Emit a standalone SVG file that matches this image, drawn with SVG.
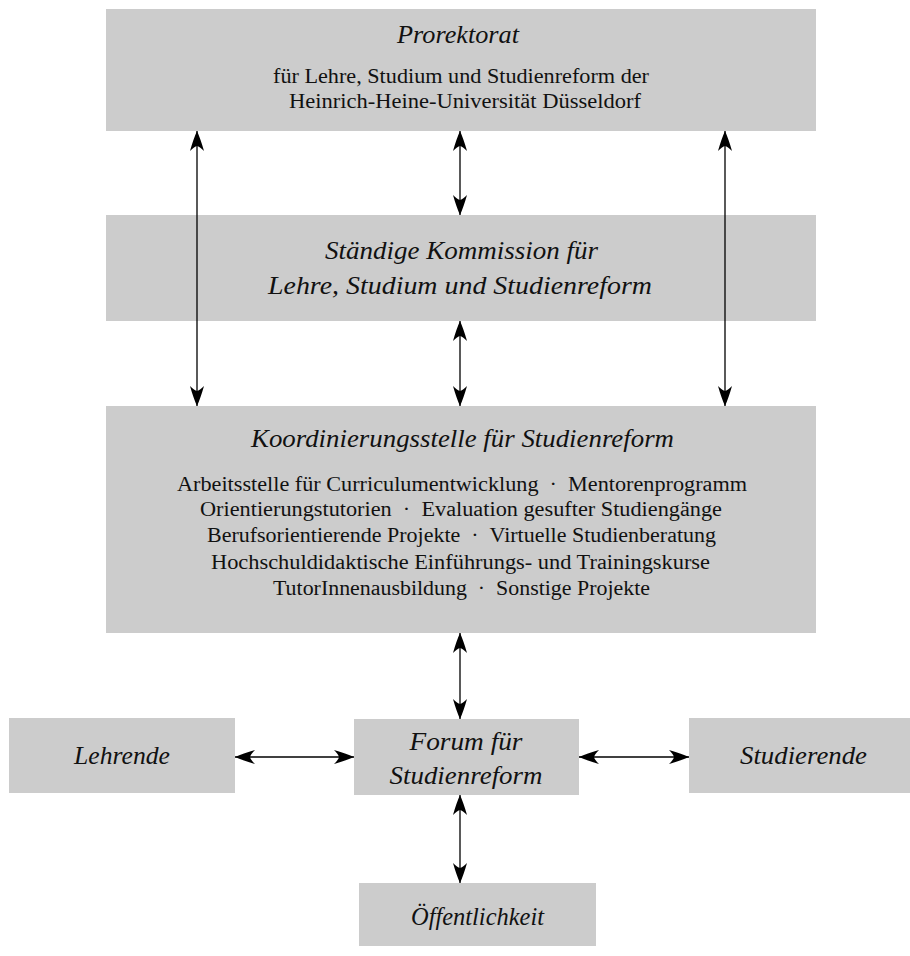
<svg xmlns="http://www.w3.org/2000/svg" width="910" height="956" viewBox="0 0 910 956">
<style>
.box{fill:#cccccc;stroke:none}
.t{font-family:"Liberation Serif","Times New Roman",serif;fill:#111111;text-anchor:middle}
.ti{font-style:italic;font-size:25px}
.tb{font-size:20.5px}
.ar{stroke:#000;stroke-width:1.3;fill:none;marker-start:url(#ah);marker-end:url(#ah)}
</style>
<defs>
<marker id="ah" viewBox="-22 -8 23 16" refX="0" refY="0" markerWidth="23" markerHeight="16" markerUnits="userSpaceOnUse" orient="auto-start-reverse">
<path d="M0,0 Q-8,-3.6 -20,-7 Q-15.5,-2.5 -15,0 Q-15.5,2.5 -20,7 Q-8,3.6 0,0 Z" fill="#000"/>
</marker>
</defs>
<g id="prorektorat">
<rect class="box" x="106" y="9" width="710" height="122"/>
<text class="t ti" x="458" y="43" textLength="122" lengthAdjust="spacingAndGlyphs">Prorektorat</text>
<text class="t tb" x="461" y="83" textLength="376" lengthAdjust="spacingAndGlyphs">für Lehre, Studium und Studienreform der</text>
<text class="t tb" x="465" y="108" textLength="352" lengthAdjust="spacingAndGlyphs">Heinrich-Heine-Universität Düsseldorf</text>
</g>
<g id="kommission">
<rect class="box" x="106" y="215" width="710" height="106"/>
<text class="t ti" x="461.5" y="259" textLength="273" lengthAdjust="spacingAndGlyphs">Ständige Kommission für</text>
<text class="t ti" x="460" y="294" textLength="384" lengthAdjust="spacingAndGlyphs">Lehre, Studium und Studienreform</text>
</g>
<g id="koordinierungsstelle">
<rect class="box" x="106" y="406" width="710" height="227"/>
<text class="t ti" x="462.5" y="447" textLength="423" lengthAdjust="spacingAndGlyphs">Koordinierungsstelle für Studienreform</text>
<text class="t tb" x="462" y="491" textLength="570" lengthAdjust="spacingAndGlyphs">Arbeitsstelle für Curriculumentwicklung&#160;&#160;·&#160;&#160;Mentorenprogramm</text>
<text class="t tb" x="461" y="516" textLength="522" lengthAdjust="spacingAndGlyphs">Orientierungstutorien&#160;&#160;·&#160;&#160;Evaluation gesufter Studiengänge</text>
<text class="t tb" x="461.5" y="542" textLength="509" lengthAdjust="spacingAndGlyphs">Berufsorientierende Projekte&#160;&#160;·&#160;&#160;Virtuelle Studienberatung</text>
<text class="t tb" x="460.5" y="569" textLength="499" lengthAdjust="spacingAndGlyphs">Hochschuldidaktische Einführungs- und Trainingskurse</text>
<text class="t tb" x="461.5" y="595" textLength="377" lengthAdjust="spacingAndGlyphs">TutorInnenausbildung&#160;&#160;·&#160;&#160;Sonstige Projekte</text>
</g>
<g id="lehrende">
<rect class="box" x="9" y="718" width="226" height="75"/>
<text class="t ti" x="122" y="764" textLength="96" lengthAdjust="spacingAndGlyphs">Lehrende</text>
</g>
<g id="forum">
<rect class="box" x="354" y="719" width="225" height="76"/>
<text class="t ti" x="466" y="750" textLength="113" lengthAdjust="spacingAndGlyphs">Forum für</text>
<text class="t ti" x="466" y="784" textLength="153" lengthAdjust="spacingAndGlyphs">Studienreform</text>
</g>
<g id="studierende">
<rect class="box" x="689" y="718" width="221" height="75"/>
<text class="t ti" x="803.5" y="764" textLength="127" lengthAdjust="spacingAndGlyphs">Studierende</text>
</g>
<g id="oeffentlichkeit">
<rect class="box" x="359" y="883" width="237" height="63"/>
<text class="t ti" x="477.5" y="925" textLength="133" lengthAdjust="spacingAndGlyphs">Öffentlichkeit</text>
</g>
<g id="connectors">
<line class="ar" x1="197" y1="131" x2="197" y2="406"/>
<line class="ar" x1="725" y1="131" x2="725" y2="406"/>
<line class="ar" x1="460" y1="131" x2="460" y2="215"/>
<line class="ar" x1="460" y1="321" x2="460" y2="406"/>
<line class="ar" x1="460" y1="633" x2="460" y2="719"/>
<line class="ar" x1="460" y1="795" x2="460" y2="883"/>
<line class="ar" x1="235" y1="757" x2="354" y2="757"/>
<line class="ar" x1="579" y1="757" x2="689" y2="757"/>
</g>
</svg>
